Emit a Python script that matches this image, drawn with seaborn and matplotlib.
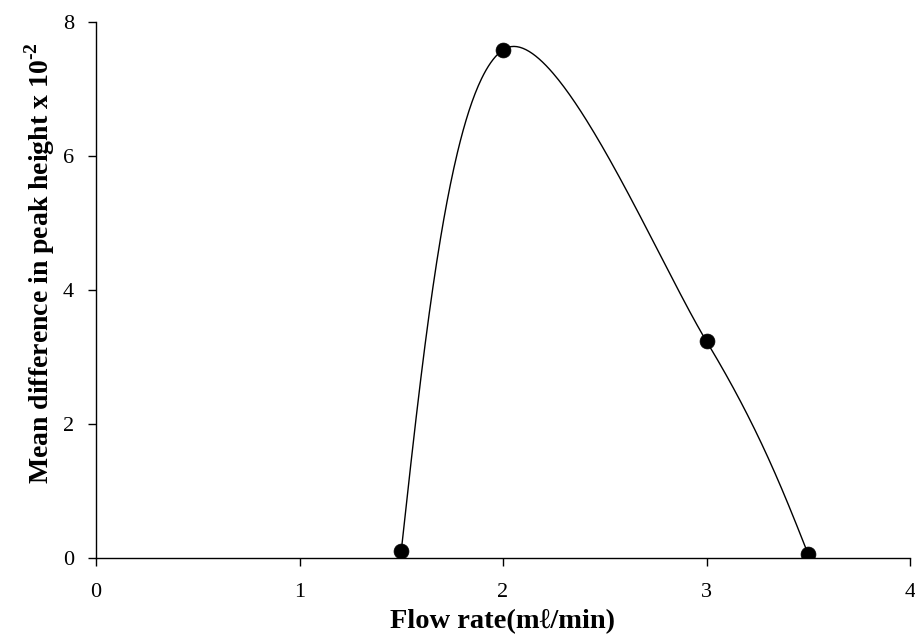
import numpy as np
import pandas as pd
import matplotlib
matplotlib.use("Agg")
import matplotlib.pyplot as plt
import seaborn as sns

# Measured values
flow_rate = [1.5, 2.0, 3.0, 3.5]
mean_diff = [0.10, 7.58, 3.23, 0.05]
x_ticks = [0, 1, 2, 3, 4]
y_ticks = [0, 2, 4, 6, 8]

sns.set_theme(style="white")
plt.rcParams["font.family"] = ["Liberation Serif", "DejaVu Serif"]
plt.rcParams["mathtext.fontset"] = "custom"
plt.rcParams["mathtext.rm"] = "Liberation Serif"
plt.rcParams["mathtext.bf"] = "Liberation Serif:bold"


def smooth_curve(pts, n=120):
    """Cubic Bezier smoothing: Catmull-Rom interior handles, natural ends."""
    pts = np.asarray(pts, dtype=float)
    m = len(pts)
    segs = []
    for i in range(m - 1):
        p1, p2 = pts[i], pts[i + 1]
        c1 = p1 + (pts[i + 1] - pts[i - 1]) / 6.0 if i > 0 else None
        c2 = p2 - (pts[i + 2] - pts[i]) / 6.0 if i + 2 < m else None
        segs.append([p1, c1, c2, p2])
    for s in segs:
        if s[1] is None and s[2] is None:
            s[1] = s[0] + (s[3] - s[0]) / 3.0
            s[2] = s[3] - (s[3] - s[0]) / 3.0
        elif s[1] is None:
            s[1] = (s[0] + s[2]) / 2.0
        elif s[2] is None:
            s[2] = (s[3] + s[1]) / 2.0
    t = np.linspace(0, 1, n)[:, None]
    out = []
    for k, (p1, c1, c2, p2) in enumerate(segs):
        seg = ((1 - t) ** 3) * p1 + 3 * ((1 - t) ** 2) * t * c1 \
            + 3 * (1 - t) * t ** 2 * c2 + t ** 3 * p2
        out.append(seg if k == 0 else seg[1:])
    return np.vstack(out)


fig = plt.figure(figsize=(9.15, 6.39), dpi=100)
ax = fig.add_axes([96 / 915, (639 - 557.7) / 639, (910 - 96) / 915, (557.7 - 21.7) / 639])
ax.set_xlim(0, 4)
ax.set_ylim(0, 8)

# smooth the line in display space, then map back to data units
disp = ax.transData.transform(np.column_stack([flow_rate, mean_diff]))
curve = ax.transData.inverted().transform(smooth_curve(disp))
curve_df = pd.DataFrame({"x": curve[:, 0], "y": curve[:, 1]})
pts_df = pd.DataFrame({"x": flow_rate, "y": mean_diff})

sns.lineplot(data=curve_df, x="x", y="y", sort=False, color="black",
             linewidth=1.0, ax=ax)
sns.scatterplot(data=pts_df, x="x", y="y", color="black", s=115,
                edgecolor="black", linewidth=0.5, zorder=3, ax=ax)

ax.set_xlim(0, 4)
ax.set_ylim(0, 8)
ax.set_xticks(x_ticks)
ax.set_yticks(y_ticks)
ax.tick_params(axis="both", direction="out", length=6, width=1.0,
               color="black", labelsize=16, labelcolor="black",
               bottom=True, left=True)
ax.tick_params(axis="x", pad=12)
ax.tick_params(axis="y", pad=10)

for side in ["top", "right"]:
    ax.spines[side].set_visible(False)
for side in ["left", "bottom"]:
    ax.spines[side].set_color("black")
    ax.spines[side].set_linewidth(1.0)

ax.set_xlabel("Flow rate(m\u2113/min)", fontsize=20.5, fontweight="bold",
              color="black", labelpad=5)
ax.set_ylabel("Mean difference in peak height x 10$^{\\mathbf{\u2010 2}}$",
              fontsize=20, fontweight="bold", color="black")
ax.yaxis.set_label_coords(-0.048, 0.55)
ax.grid(False)

fig.savefig("out.png", dpi=100, facecolor="white")
